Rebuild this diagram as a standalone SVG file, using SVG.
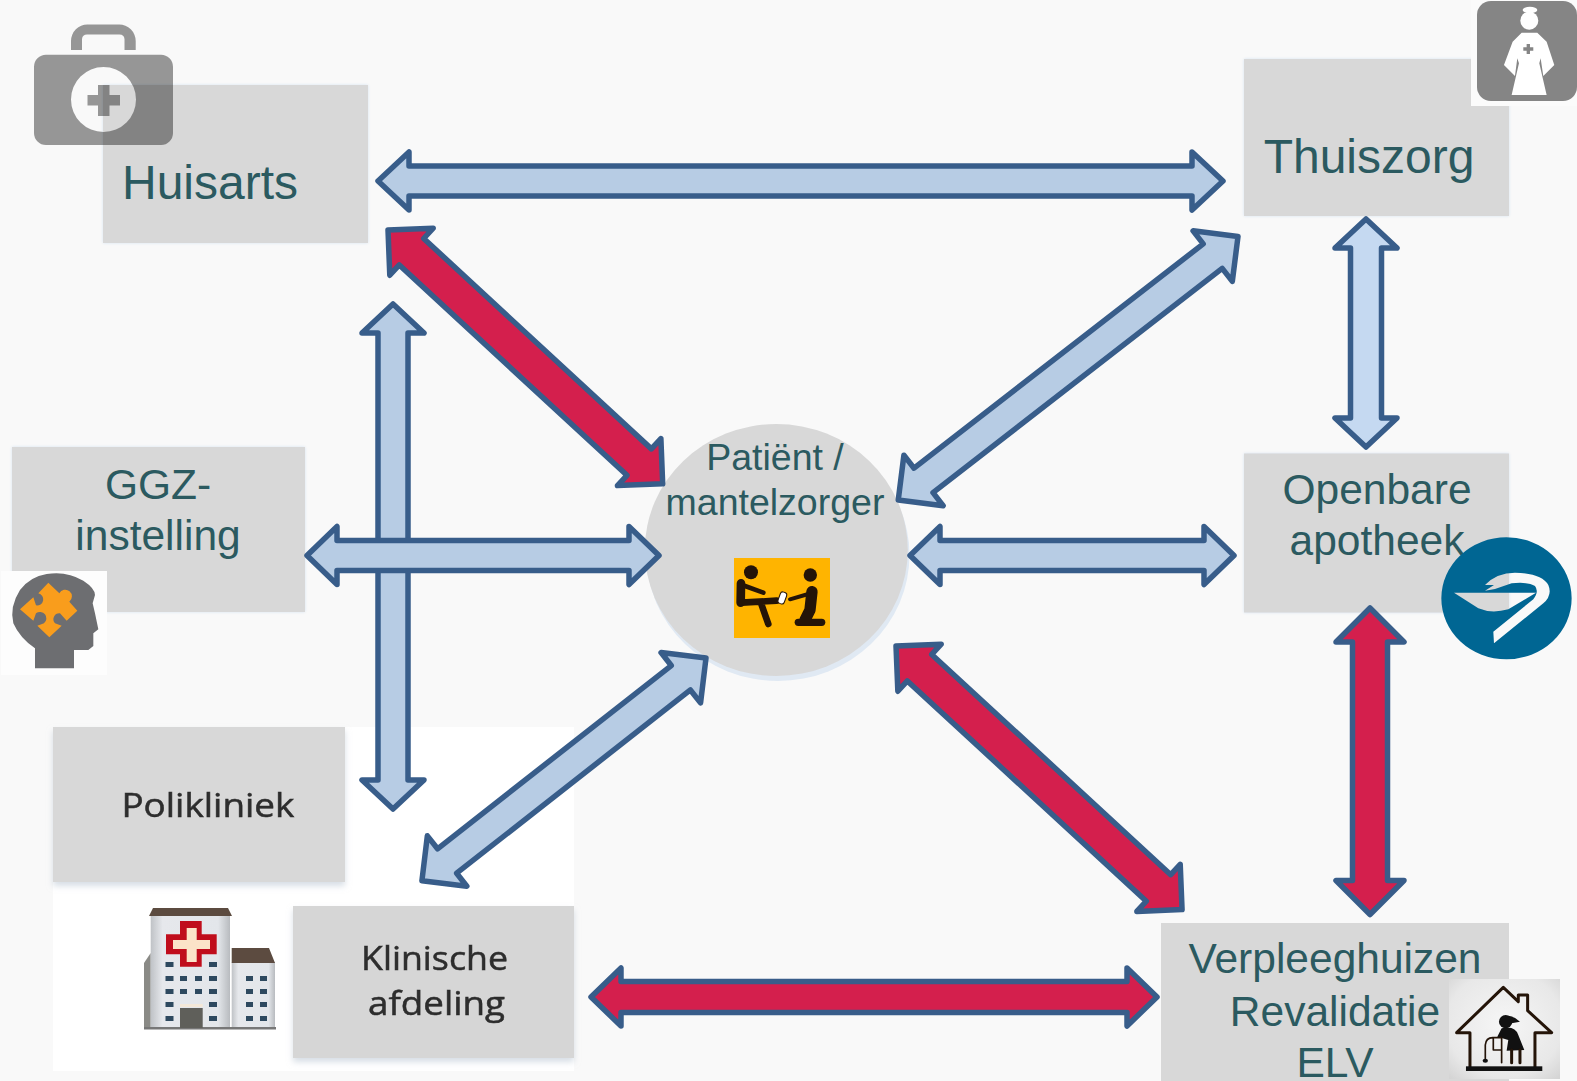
<svg xmlns="http://www.w3.org/2000/svg" width="1577" height="1081" viewBox="0 0 1577 1081">
<defs>
<filter id="glow" x="-5%" y="-5%" width="110%" height="110%"><feDropShadow dx="0" dy="0" stdDeviation="1.5" flood-color="#d5e2f2"/></filter>
<filter id="soft" x="-5%" y="-5%" width="110%" height="115%"><feDropShadow dx="0" dy="4" stdDeviation="3" flood-color="#bcc8d4" flood-opacity=".6"/></filter>
<filter id="blur"><feGaussianBlur stdDeviation=".45"/></filter>
<filter id="blur2"><feGaussianBlur stdDeviation=".55"/></filter>
<radialGradient id="hg" cx="50%" cy="45%" r="75%"><stop offset="0" stop-color="#f6f6f6"/><stop offset=".7" stop-color="#e8e8e8"/><stop offset="1" stop-color="#d2d2d2"/></radialGradient>
<linearGradient id="wall" x1="0" x2="1" y1="0" y2="0"><stop offset="0" stop-color="#bfc2c6"/><stop offset=".15" stop-color="#e6e8ec"/><stop offset=".85" stop-color="#e3e6ea"/><stop offset="1" stop-color="#b8bbbf"/></linearGradient>
</defs>
<style>
.box{fill:#d8d8d8}
.lbl{font-family:"Liberation Sans",Arial,sans-serif;fill:#2b5a60;text-anchor:middle}
.img{font-family:"Open Sans","Noto Sans",sans-serif;fill:#2d2d2d;stroke:#2d2d2d;stroke-width:.5;filter:url(#blur)}
.blue{fill:#b7cce4;stroke:#385d8a;stroke-width:5.5;stroke-linejoin:round}
.lite{fill:#c5d9f1;stroke:#385d8a;stroke-width:5.5;stroke-linejoin:round}
.red{fill:#d41f4d;stroke:#385d8a;stroke-width:5.5;stroke-linejoin:round}
.fig{fill:none;stroke:#241408;stroke-linecap:round;stroke-linejoin:round}
.win{fill:#2f4a5f}
.dk{fill:#5b4c40}
</style>
<rect width="1577" height="1081" fill="#f9f9f9"/>

<g id="node-huisarts">
<rect class="box" x="103" y="85" width="265" height="158" filter="url(#glow)"/>
<text class="lbl" x="210" y="199" font-size="48">Huisarts</text>
<path fill="#0a0a0a" fill-opacity=".41" fill-rule="evenodd" d="M46 54.700H161A12 12 0 0 1 173 66.700V133A12 12 0 0 1 161 145H46A12 12 0 0 1 34 133V66.700A12 12 0 0 1 46 54.700ZM136 99.500A32.500 32.500 0 1 0 71 99.500A32.500 32.500 0 1 0 136 99.500ZM98 85H109.500V95H120V105.500H109.500V116H98V105.500H87.500V95H98Z"/>
<path fill="#0a0a0a" fill-opacity=".41" d="M71 50V41A16.500 16.500 0 0 1 87.500 24.500H119A16.500 16.500 0 0 1 135.700 41V50H124.500V39A5 5 0 0 0 119.500 34.500H87A5 5 0 0 0 82 39V50Z"/>
</g>

<g id="node-thuiszorg">
<rect class="box" x="1244" y="59" width="265" height="157" filter="url(#glow)"/>
<text class="lbl" x="1369" y="173" font-size="48">Thuiszorg</text>
<rect x="1471" y="0" width="106" height="106" fill="#fbfbfb"/>
<rect x="1477" y="1" width="100" height="100" rx="14" fill="#858585"/>
<g transform="translate(1200,0) scale(.3333)" fill="#fff">
<circle cx="988" cy="62" r="27"/>
<ellipse cx="990" cy="30" rx="22" ry="10"/>
<path d="M965 98H1012L1040 125L1063 195L1030 228L1022 175L1018 190L1040 285H935L957 190L952 175L945 228L912 195L938 125Z"/>
<path fill="#858585" d="M980 132H990V142H1000V152H990V162H980V152H970V142H980Z"/>
</g>
</g>

<g id="node-openbare-apotheek">
<rect class="box" x="1244" y="453.500" width="265" height="159" filter="url(#glow)"/>
<text class="lbl" font-size="42.500"><tspan x="1377" y="504">Openbare</tspan><tspan x="1377" y="555">apotheek</tspan></text>
<g transform="translate(1400,520) scale(.3333)">
<path fill="#006693" fill-rule="evenodd" d="M124 235A195.500 183 0 1 1 515 235A195.500 183 0 1 1 124 235ZM162 218H408L325 268Q275 282 235 265ZM255 195Q290 158 345 158Q425 160 445 195Q458 225 430 250L282 370L280 335L400 238Q418 215 405 198Q385 185 335 190L285 207L255 212L282 195Z"/>
</g>
</g>

<g id="node-ggz">
<rect class="box" x="12" y="447" width="293" height="165" filter="url(#glow)"/>
<text class="lbl" font-size="42.500"><tspan x="158" y="499">GGZ-</tspan><tspan x="158" y="550">instelling</tspan></text>
<rect x="1" y="571" width="106" height="104" fill="#fdfdfd"/>
<g transform="translate(0,560) scale(.3333)">
<path fill="#6d6e71" d="M105 325V265Q60 235 40 190Q28 140 60 90Q90 50 140 42Q200 32 250 62Q285 85 285 105L278 130L285 160L295 208L280 220L280 258L265 270H222V325Z"/>
<path fill="#f99d1c" d="M145 68L178 100A20 20 0 1 1 208 125L232 152L200 182L180 160A18 18 0 0 0 165 190L185 197L148 232L112 197L132 190A18 18 0 0 0 108 160L100 182L60 148L100 112L108 136A17 17 0 0 0 115 100Z"/>
</g>
</g>

<g id="node-poliklinisch">
<rect x="53" y="727" width="521" height="344" fill="#fff"/>
<rect x="53" y="727" width="292" height="155" fill="#d8d8d8" filter="url(#soft)"/>
<text class="img" x="121.400" y="816.700" font-size="32" textLength="173" lengthAdjust="spacingAndGlyphs">Polikliniek</text>
<rect x="293" y="906" width="281" height="152" fill="#d6d6d6" filter="url(#soft)"/>
<text class="img" x="361" y="970" font-size="32" textLength="147" lengthAdjust="spacingAndGlyphs">Klinische</text>
<text class="img" x="368" y="1015" font-size="32" textLength="137" lengthAdjust="spacingAndGlyphs">afdeling</text>
<g id="hospital" filter="url(#blur2)">
<path fill="#8a8a86" d="M144 963L150.700 953V1028H144Z"/>
<rect x="150.700" y="915" width="79.300" height="113" fill="url(#wall)"/>
<path class="dk" d="M153 908H228L232 916H149Z"/>
<rect x="231.700" y="962" width="43.300" height="66" fill="url(#wall)"/>
<path class="dk" d="M231.700 948H269L275 963H231.700Z"/>
<rect x="144" y="1027" width="132" height="2.500" fill="#777"/>
<path fill="#c00f1c" d="M180 921H201.700V934.300H216.700V954.300H201.700V966.700H180V954.300H166V934.300H180Z"/>
<path fill="#fbe3c8" d="M186.700 928H196.700V940H210V949H196.700V962H186.700V949H173V940H186.700Z"/>
<g class="win">
<rect x="165.500" y="962" width="8" height="5"/><rect x="209" y="962" width="8" height="5"/>
<rect x="165.500" y="976" width="8" height="5"/><rect x="180" y="976" width="7" height="5"/><rect x="195" y="976" width="7" height="5"/><rect x="209" y="976" width="8" height="5"/>
<rect x="165.500" y="989" width="8" height="5"/><rect x="180" y="989" width="7" height="5"/><rect x="195" y="989" width="7" height="5"/><rect x="209" y="989" width="8" height="5"/>
<rect x="165.500" y="1002" width="8" height="5"/><rect x="209" y="1002" width="8" height="5"/>
<rect x="165.500" y="1016" width="8" height="5"/><rect x="209" y="1016" width="8" height="5"/>
<rect x="246" y="976" width="7" height="5"/><rect x="260" y="976" width="7" height="5"/>
<rect x="246" y="989" width="7" height="5"/><rect x="260" y="989" width="7" height="5"/>
<rect x="246" y="1002" width="7" height="5"/><rect x="260" y="1002" width="7" height="5"/>
<rect x="246" y="1016" width="7" height="5"/><rect x="260" y="1016" width="7" height="5"/>
</g>
<rect x="180" y="1008" width="22.700" height="20" fill="#5f5f5a"/>
<rect x="180" y="1004" width="22.700" height="3" fill="#f4e8d8"/>
</g>
</g>

<g id="node-verpleeghuizen">
<rect class="box" x="1161" y="923" width="348" height="158"/>
<text class="lbl" font-size="42.500"><tspan x="1335" y="973">Verpleeghuizen</tspan><tspan x="1335" y="1026">Revalidatie</tspan><tspan x="1335" y="1077">ELV</tspan></text>
<rect x="1449" y="979" width="111" height="100" fill="url(#hg)"/>
<g transform="translate(1140,900) scale(.3333)">
<path class="fig" stroke-width="9" d="M990 505V398H950L1090 262L1135 305V285H1163V332L1235 398H1185V505"/>
<rect x="978" y="499" width="229" height="14" fill="#111"/>
<ellipse cx="1097" cy="365" rx="20" ry="20" fill="#111"/>
<path fill="#111" d="M1105 347Q1125 350 1140 365L1115 370Z"/>
<path fill="#111" d="M1085 385Q1125 375 1135 405L1153 450L1100 452L1105 420L1072 410Z"/>
<path class="fig" stroke-width="9" d="M1115 450V488M1140 450V488"/>
<path class="fig" stroke-width="5" d="M1036 482V435Q1038 413 1058 413H1085V488M1060 413V450H1085"/>
<ellipse cx="1036" cy="482" rx="8" ry="6" fill="#111"/>
</g>
</g>

<g id="node-patient">
<ellipse cx="778" cy="555" rx="131.500" ry="126" fill="#e0e9f3"/>
<ellipse cx="776.300" cy="550" rx="131.500" ry="126" fill="#d8d8d8"/>
<text class="lbl" font-size="37.500"><tspan x="775" y="470">Patiënt /</tspan><tspan x="775" y="515">mantelzorger</tspan></text>
<rect x="734" y="558" width="96" height="80" fill="#ffb400"/>
<g transform="translate(630,410) scale(.3333)">
<circle cx="363" cy="487" r="21" fill="#241408"/>
<circle cx="541" cy="495" r="20" fill="#241408"/>
<path class="fig" stroke-width="26" d="M333 520L332 578"/>
<path class="fig" stroke-width="14" d="M345 528L400 548"/>
<path class="fig" stroke-width="20" d="M335 578L440 572M395 585L415 642"/>
<path class="fig" stroke-width="34" d="M546 545L540 600L525 630"/>
<path class="fig" stroke-width="12" d="M535 552L480 568"/>
<path class="fig" stroke-width="22" d="M505 637H575"/>
<rect x="447" y="546" width="20" height="36" rx="8" transform="rotate(20 457 564)" fill="#fff" stroke="#241408" stroke-width="3"/>
</g>
</g>

<g id="connectors">
<polygon class="blue" transform="translate(378,181)" points="0,0 31,-29 31,-15 814,-15 814,-29 845,0 814,29 814,15 31,15 31,29"/>
<polygon class="red" transform="translate(388,230) rotate(42.740)" points="0,0 32,-32 32,-18 342,-18 342,-32 374,0 342,32 342,18 32,18 32,32"/>
<polygon class="blue" transform="translate(1238,236.500) rotate(142.200)" points="0,0 32,-32 32,-15.500 398,-15.500 398,-32 430,0 398,32 398,15.500 32,15.500 32,32"/>
<polygon class="lite" transform="translate(1366,219) rotate(90)" points="0,0 29,-31 29,-15.500 199,-15.500 199,-31 228,0 199,31 199,15.500 29,15.500 29,31"/>
<polygon class="blue" transform="translate(393,304) rotate(90)" points="0,0 29,-31 29,-15 476,-15 476,-31 505,0 476,31 476,15 29,15 29,31"/>
<polygon class="blue" transform="translate(307,555.500)" points="0,0 30,-29 30,-15 322,-15 322,-29 352,0 322,29 322,15 30,15 30,29"/>
<polygon class="blue" transform="translate(910,555.500)" points="0,0 30,-29 30,-15 294,-15 294,-29 324,0 294,29 294,15 30,15 30,29"/>
<polygon class="blue" transform="translate(706,658) rotate(141.900)" points="0,0 32,-32 32,-15.500 329,-15.500 329,-32 361,0 329,32 329,15.500 32,15.500 32,32"/>
<polygon class="red" transform="translate(896,646) rotate(42.660)" points="0,0 32,-32 32,-18 357,-18 357,-32 389,0 357,32 357,18 32,18 32,32"/>
<polygon class="red" transform="translate(1370,608) rotate(90)" points="0,0 34,-34 34,-17.500 272.500,-17.500 272.500,-34 306.500,0 272.500,34 272.500,17.500 34,17.500 34,34"/>
<polygon class="red" transform="translate(591,997)" points="0,0 30,-29 30,-15.500 536,-15.500 536,-29 566,0 536,29 536,15.500 30,15.500 30,29"/>
</g>
</svg>
